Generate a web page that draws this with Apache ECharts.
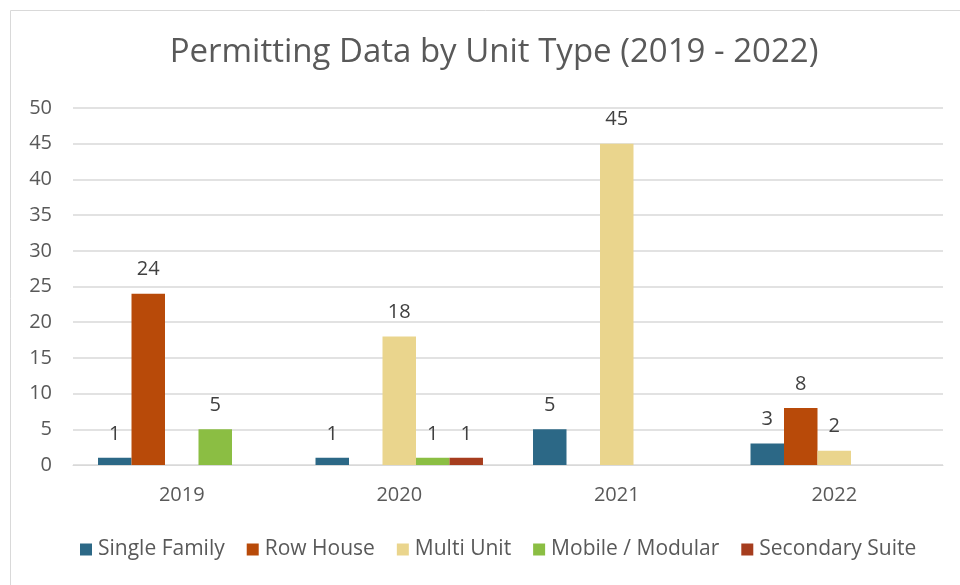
<!DOCTYPE html>
<html>
<head>
<meta charset="utf-8">
<script src="https://cdn.jsdelivr.net/npm/echarts@6/dist/echarts.min.js"></script>
<style>
  html, body { margin: 0; padding: 0; background: #fff; }
  #chart { width: 960px; height: 585px; }
</style>
</head>
<body>
<div id="chart"></div>
<script>
const years = ["2019", "2020", "2021", "2022"];
const singleFamily = [1, 1, 5, 3];
const rowHouse = [24, null, null, 8];
const multiUnit = [null, 18, 45, 2];
const mobileModular = [5, 1, null, null];
const secondarySuite = [null, 1, null, null];

const font = "Open Sans";
const textColor = "#595959";

const makeSeries = (name, data, color) => ({
  name,
  type: "bar",
  data,
  barGap: "0%",
  barCategoryGap: "23%",
  itemStyle: { color },
  label: {
    show: true,
    position: "top",
    distance: 14,
    color: "#404040",
    fontFamily: font,
    fontSize: 20,
    formatter: (p) => (p.value == null ? "" : p.value),
  },
});

const chart = echarts.init(document.getElementById("chart"));

chart.setOption({
  animation: false,
  graphic: [
    {
      type: "rect",
      shape: { x: 10.5, y: 10.5, width: 980, height: 600 },
      style: { fill: "none", stroke: "#d9d9d9", lineWidth: 1 },
    },
  ],
  title: {
    text: "Permitting Data by Unit Type (2019 - 2022)",
    left: 489,
    textAlign: "center",
    top: 31,
    textStyle: {
      fontFamily: font,
      fontWeight: "normal",
      fontSize: 33,
      color: textColor,
    },
  },
  legend: {
    top: 534,
    left: 75,
    icon: "rect",
    itemWidth: 12,
    itemHeight: 12,
    itemGap: 22,
    textStyle: { fontFamily: font, fontSize: 21, color: textColor, padding: [0, 0, 0, 1] },
  },
  grid: { left: 73, right: 17, top: 108, bottom: 120 },
  xAxis: {
    type: "category",
    data: years,
    axisLine: { lineStyle: { color: "#d9d9d9" } },
    axisTick: { show: false },
    axisLabel: { fontFamily: font, fontSize: 20, color: textColor, margin: 20 },
  },
  yAxis: {
    type: "value",
    min: 0,
    max: 50,
    interval: 5,
    axisLine: { show: false },
    axisTick: { show: false },
    splitLine: { lineStyle: { color: "#d9d9d9", width: 1.5 } },
    axisLabel: { fontFamily: font, fontSize: 20, color: textColor, margin: 21 },
  },
  series: [
    makeSeries("Single Family", singleFamily, "#2c6886"),
    makeSeries("Row House", rowHouse, "#b84a09"),
    makeSeries("Multi Unit", multiUnit, "#ead58d"),
    makeSeries("Mobile / Modular", mobileModular, "#8bbe43"),
    makeSeries("Secondary Suite", secondarySuite, "#a63d1e"),
  ],
});
</script>
</body>
</html>
